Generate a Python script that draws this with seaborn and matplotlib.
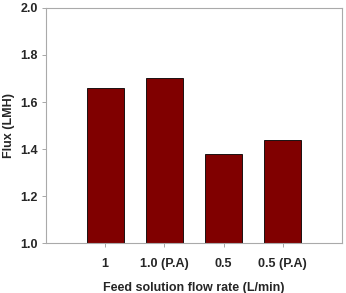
import pandas as pd
import seaborn as sns
import matplotlib.pyplot as plt

rates = ['1', '1.0 (P.A)', '0.5', '0.5 (P.A)']
flux = [1.66, 1.70, 1.38, 1.44]

df = pd.DataFrame({'rate': rates, 'flux': flux})

sns.set_style('white')
plt.rcParams['font.family'] = ['Liberation Sans', 'DejaVu Sans']
plt.rcParams['font.weight'] = 'bold'

fig, ax = plt.subplots(figsize=(3.46, 2.93), dpi=100)
sns.barplot(data=df, x='rate', y='flux', color='#800000', saturation=1,
            edgecolor='black', linewidth=0.6, width=0.62, ax=ax)

ax.set_xlim(-1.0, 4.0)
ax.set_ylim(1.0, 2.0)
ax.set_yticks([1.0, 1.2, 1.4, 1.6, 1.8, 2.0])
ax.set_yticklabels(['1.0', '1.2', '1.4', '1.6', '1.8', '2.0'])
ax.set_xlabel('Feed solution flow rate (L/min)', fontsize=9, fontweight='bold', labelpad=8)
ax.set_ylabel('Flux (LMH)', fontsize=9, fontweight='bold', labelpad=4)
ax.tick_params(axis='x', pad=8)
ax.tick_params(axis='y', pad=3)
ax.tick_params(axis='both', labelsize=9, direction='out', length=3, width=0.6,
               color='#999999', left=True, bottom=True)
for s in ax.spines.values():
    s.set_color('#aaaaaa')
    s.set_linewidth(0.8)

fig.subplots_adjust(left=0.133, right=0.988, top=0.973, bottom=0.17)
fig.savefig('out.png', dpi=100)
